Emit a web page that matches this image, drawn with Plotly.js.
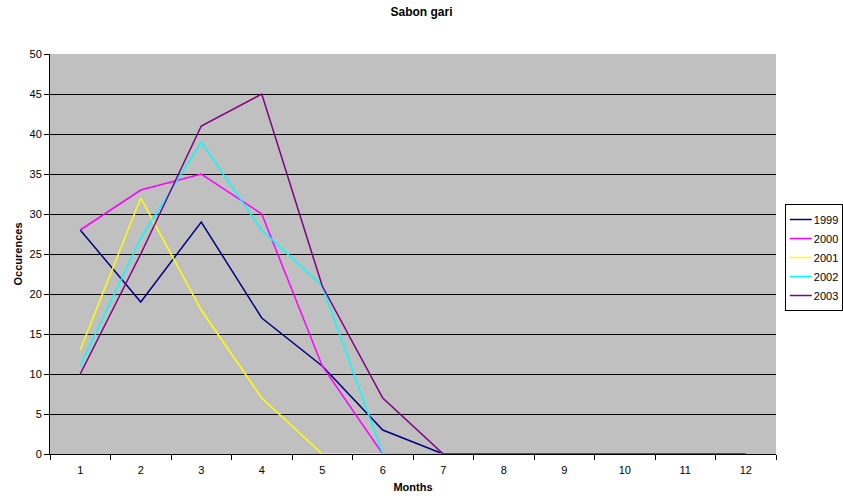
<!DOCTYPE html>
<html><head><meta charset="utf-8">
<script src="https://cdn.plot.ly/plotly-3.0.1.min.js"></script>
<style>body{margin:0;padding:0;background:#fff}#c{width:843px;height:500px}</style>
</head><body><div id="c"></div>
<script>
const months = ['1','2','3','4','5','6','7','8','9','10','11','12'];
const y1999 = [28,19,29,17,11,3,0,0,0,0,0,0];
const y2000 = [28,33,35,30,11,0,0,0,0,0,0,0];
const y2001 = [13,32,18,7,0,0,0,0,0,0,0,0];
const y2002 = [11,27,39,28,21,0,0,0,0,0,0,0];
const y2003 = [10,25,41,45,21,7,0,0,0,0,0,0];
const names = ['1999','2000','2001','2002','2003'];
const colors = ['#000080','#FF00FF','#FFFF00','#00FFFF','#800080'];
const series = [y1999,y2000,y2001,y2002,y2003];
const traces = series.map((s,i)=>({x:months,y:s,name:names[i],type:'scatter',mode:'lines',line:{color:colors[i],width:1.5}}));
const layout = {
  width:843,height:500,
  margin:{l:50,r:67,t:54,b:46},
  paper_bgcolor:'#fff',plot_bgcolor:'#C0C0C0',
  font:{family:'Liberation Sans, Arial, sans-serif',size:11,color:'#000'},
  title:{text:'<b>Sabon gari</b>',font:{size:12},x:0.5,xanchor:'center',y:0.976,yanchor:'middle'},
  xaxis:{type:'category',range:[-0.5,11.5],tickson:'boundaries',ticks:'outside',ticklen:5,tickcolor:'#000',showline:true,linecolor:'#000',linewidth:1,showgrid:false,zeroline:false,
    ticklabelstandoff:6,title:{text:'<b>Months</b>',font:{size:11},standoff:8}},
  yaxis:{range:[0,50],dtick:5,ticks:'outside',ticklen:5,tickcolor:'#000',showline:true,linecolor:'#000',linewidth:1,showgrid:true,gridcolor:'#000',gridwidth:1,zeroline:false,
    title:{text:'<b>Occurences</b>',font:{size:11},standoff:4}},
  legend:{xref:'container',x:0.931,xanchor:'left',y:0.625,yanchor:'top',bgcolor:'#fff',bordercolor:'#000',borderwidth:1,font:{size:11},itemwidth:30,tracegroupgap:0},
  showlegend:true
};
Plotly.newPlot('c',traces,layout,{displayModeBar:false,staticPlot:true}).then(function(gd){
  // compact legend: shorter sample lines, text closer
  const leg = gd.querySelector('.legend');
  if(!leg) return;
  let maxW = 0;
  leg.querySelectorAll('.traces').forEach(function(t){
    t.querySelectorAll('.legendlines path, .legendline').forEach(function(p){ p.setAttribute('d','M4,0h22'); });
    const tx = t.querySelector('text.legendtext');
    if(tx){ tx.setAttribute('x','28'); maxW = Math.max(maxW, tx.getBBox().width); }
  });
  const bg = leg.querySelector('rect.bg');
  if(bg && maxW>0){ bg.setAttribute('width', String(28+maxW+5)); }
});
</script></body></html>
